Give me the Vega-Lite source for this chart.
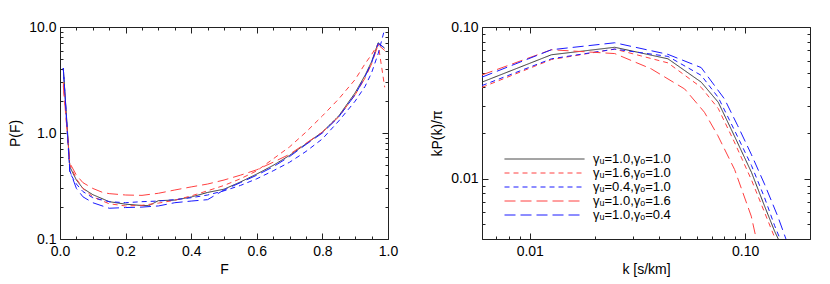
{
"$schema": "https://vega.github.io/schema/vega-lite/v6.json",
"padding": {"left": 8, "top": 19, "right": 5, "bottom": 5},
"background": "white",
"bounds": "flush",
"spacing": 94,
"config": {
  "font": "Liberation Sans",
  "view": {"stroke": "#222", "strokeWidth": 1},
  "axis": {"grid": false, "domain": false, "labelFont": "Liberation Sans", "labelFontSize": 14, "labelColor": "#000", "titleFont": "Liberation Sans", "titleFontSize": 14, "titleFontWeight": "normal", "titleColor": "#000", "tickColor": "#222", "labelOverlap": false, "labelFlush": false, "labelPadding": 10, "titlePadding": 6},
  "axisBottom": {"titlePadding": 1, "labelPadding": 11}
},
"resolve": {"legend": {"color": "independent", "strokeDash": "independent"}},
"datasets": {
"pf": [
{"s":"γᵤ=1.0,γₒ=1.0","F":0.01,"P":4.1},{"s":"γᵤ=1.0,γₒ=1.0","F":0.03,"P":0.48},{"s":"γᵤ=1.0,γₒ=1.0","F":0.05,"P":0.36},{"s":"γᵤ=1.0,γₒ=1.0","F":0.07,"P":0.30},{"s":"γᵤ=1.0,γₒ=1.0","F":0.1,"P":0.262},{"s":"γᵤ=1.0,γₒ=1.0","F":0.15,"P":0.225},{"s":"γᵤ=1.0,γₒ=1.0","F":0.2,"P":0.213},{"s":"γᵤ=1.0,γₒ=1.0","F":0.25,"P":0.207},{"s":"γᵤ=1.0,γₒ=1.0","F":0.27,"P":0.206},{"s":"γᵤ=1.0,γₒ=1.0","F":0.3,"P":0.23},{"s":"γᵤ=1.0,γₒ=1.0","F":0.35,"P":0.233},{"s":"γᵤ=1.0,γₒ=1.0","F":0.4,"P":0.249},{"s":"γᵤ=1.0,γₒ=1.0","F":0.45,"P":0.275},{"s":"γᵤ=1.0,γₒ=1.0","F":0.5,"P":0.295},{"s":"γᵤ=1.0,γₒ=1.0","F":0.55,"P":0.345},{"s":"γᵤ=1.0,γₒ=1.0","F":0.6,"P":0.41},{"s":"γᵤ=1.0,γₒ=1.0","F":0.65,"P":0.495},{"s":"γᵤ=1.0,γₒ=1.0","F":0.7,"P":0.615},{"s":"γᵤ=1.0,γₒ=1.0","F":0.75,"P":0.79},{"s":"γᵤ=1.0,γₒ=1.0","F":0.8,"P":1.02},{"s":"γᵤ=1.0,γₒ=1.0","F":0.85,"P":1.45},{"s":"γᵤ=1.0,γₒ=1.0","F":0.9,"P":2.4},{"s":"γᵤ=1.0,γₒ=1.0","F":0.93,"P":3.5},{"s":"γᵤ=1.0,γₒ=1.0","F":0.95,"P":4.7},{"s":"γᵤ=1.0,γₒ=1.0","F":0.97,"P":7.1},{"s":"γᵤ=1.0,γₒ=1.0","F":0.99,"P":6.3},
{"s":"γᵤ=1.6,γₒ=1.0","F":0.01,"P":3.0},{"s":"γᵤ=1.6,γₒ=1.0","F":0.03,"P":0.50},{"s":"γᵤ=1.6,γₒ=1.0","F":0.05,"P":0.37},{"s":"γᵤ=1.6,γₒ=1.0","F":0.07,"P":0.30},{"s":"γᵤ=1.6,γₒ=1.0","F":0.1,"P":0.25},{"s":"γᵤ=1.6,γₒ=1.0","F":0.15,"P":0.215},{"s":"γᵤ=1.6,γₒ=1.0","F":0.2,"P":0.205},{"s":"γᵤ=1.6,γₒ=1.0","F":0.25,"P":0.208},{"s":"γᵤ=1.6,γₒ=1.0","F":0.3,"P":0.218},{"s":"γᵤ=1.6,γₒ=1.0","F":0.35,"P":0.232},{"s":"γᵤ=1.6,γₒ=1.0","F":0.4,"P":0.255},{"s":"γᵤ=1.6,γₒ=1.0","F":0.45,"P":0.285},{"s":"γᵤ=1.6,γₒ=1.0","F":0.5,"P":0.32},{"s":"γᵤ=1.6,γₒ=1.0","F":0.55,"P":0.37},{"s":"γᵤ=1.6,γₒ=1.0","F":0.6,"P":0.44},{"s":"γᵤ=1.6,γₒ=1.0","F":0.65,"P":0.57},{"s":"γᵤ=1.6,γₒ=1.0","F":0.7,"P":0.74},{"s":"γᵤ=1.6,γₒ=1.0","F":0.75,"P":1.02},{"s":"γᵤ=1.6,γₒ=1.0","F":0.8,"P":1.45},{"s":"γᵤ=1.6,γₒ=1.0","F":0.85,"P":2.1},{"s":"γᵤ=1.6,γₒ=1.0","F":0.9,"P":3.2},{"s":"γᵤ=1.6,γₒ=1.0","F":0.93,"P":4.5},{"s":"γᵤ=1.6,γₒ=1.0","F":0.95,"P":5.5},{"s":"γᵤ=1.6,γₒ=1.0","F":0.97,"P":6.9},{"s":"γᵤ=1.6,γₒ=1.0","F":0.99,"P":2.7},
{"s":"γᵤ=0.4,γₒ=1.0","F":0.01,"P":4.1},{"s":"γᵤ=0.4,γₒ=1.0","F":0.03,"P":0.42},{"s":"γᵤ=0.4,γₒ=1.0","F":0.05,"P":0.33},{"s":"γᵤ=0.4,γₒ=1.0","F":0.07,"P":0.28},{"s":"γᵤ=0.4,γₒ=1.0","F":0.1,"P":0.245},{"s":"γᵤ=0.4,γₒ=1.0","F":0.15,"P":0.225},{"s":"γᵤ=0.4,γₒ=1.0","F":0.2,"P":0.22},{"s":"γᵤ=0.4,γₒ=1.0","F":0.25,"P":0.225},{"s":"γᵤ=0.4,γₒ=1.0","F":0.3,"P":0.228},{"s":"γᵤ=0.4,γₒ=1.0","F":0.35,"P":0.235},{"s":"γᵤ=0.4,γₒ=1.0","F":0.4,"P":0.245},{"s":"γᵤ=0.4,γₒ=1.0","F":0.45,"P":0.26},{"s":"γᵤ=0.4,γₒ=1.0","F":0.5,"P":0.285},{"s":"γᵤ=0.4,γₒ=1.0","F":0.55,"P":0.32},{"s":"γᵤ=0.4,γₒ=1.0","F":0.6,"P":0.37},{"s":"γᵤ=0.4,γₒ=1.0","F":0.65,"P":0.44},{"s":"γᵤ=0.4,γₒ=1.0","F":0.7,"P":0.53},{"s":"γᵤ=0.4,γₒ=1.0","F":0.75,"P":0.67},{"s":"γᵤ=0.4,γₒ=1.0","F":0.8,"P":0.88},{"s":"γᵤ=0.4,γₒ=1.0","F":0.85,"P":1.3},{"s":"γᵤ=0.4,γₒ=1.0","F":0.9,"P":2.0},{"s":"γᵤ=0.4,γₒ=1.0","F":0.93,"P":2.75},{"s":"γᵤ=0.4,γₒ=1.0","F":0.95,"P":3.7},{"s":"γᵤ=0.4,γₒ=1.0","F":0.97,"P":5.6},{"s":"γᵤ=0.4,γₒ=1.0","F":0.99,"P":9.6},
{"s":"γᵤ=1.0,γₒ=1.6","F":0.01,"P":2.8},{"s":"γᵤ=1.0,γₒ=1.6","F":0.03,"P":0.52},{"s":"γᵤ=1.0,γₒ=1.6","F":0.05,"P":0.40},{"s":"γᵤ=1.0,γₒ=1.6","F":0.07,"P":0.34},{"s":"γᵤ=1.0,γₒ=1.6","F":0.1,"P":0.30},{"s":"γᵤ=1.0,γₒ=1.6","F":0.13,"P":0.275},{"s":"γᵤ=1.0,γₒ=1.6","F":0.15,"P":0.268},{"s":"γᵤ=1.0,γₒ=1.6","F":0.2,"P":0.26},{"s":"γᵤ=1.0,γₒ=1.6","F":0.25,"P":0.258},{"s":"γᵤ=1.0,γₒ=1.6","F":0.3,"P":0.27},{"s":"γᵤ=1.0,γₒ=1.6","F":0.35,"P":0.29},{"s":"γᵤ=1.0,γₒ=1.6","F":0.4,"P":0.31},{"s":"γᵤ=1.0,γₒ=1.6","F":0.45,"P":0.33},{"s":"γᵤ=1.0,γₒ=1.6","F":0.5,"P":0.36},{"s":"γᵤ=1.0,γₒ=1.6","F":0.55,"P":0.40},{"s":"γᵤ=1.0,γₒ=1.6","F":0.6,"P":0.45},{"s":"γᵤ=1.0,γₒ=1.6","F":0.65,"P":0.53},{"s":"γᵤ=1.0,γₒ=1.6","F":0.7,"P":0.63},{"s":"γᵤ=1.0,γₒ=1.6","F":0.75,"P":0.80},{"s":"γᵤ=1.0,γₒ=1.6","F":0.8,"P":1.02},{"s":"γᵤ=1.0,γₒ=1.6","F":0.85,"P":1.42},{"s":"γᵤ=1.0,γₒ=1.6","F":0.9,"P":2.3},{"s":"γᵤ=1.0,γₒ=1.6","F":0.93,"P":3.3},{"s":"γᵤ=1.0,γₒ=1.6","F":0.95,"P":4.5},{"s":"γᵤ=1.0,γₒ=1.6","F":0.97,"P":6.8},{"s":"γᵤ=1.0,γₒ=1.6","F":0.99,"P":6.0},
{"s":"γᵤ=1.0,γₒ=0.4","F":0.01,"P":4.1},{"s":"γᵤ=1.0,γₒ=0.4","F":0.03,"P":0.44},{"s":"γᵤ=1.0,γₒ=0.4","F":0.05,"P":0.30},{"s":"γᵤ=1.0,γₒ=0.4","F":0.07,"P":0.25},{"s":"γᵤ=1.0,γₒ=0.4","F":0.1,"P":0.22},{"s":"γᵤ=1.0,γₒ=0.4","F":0.15,"P":0.195},{"s":"γᵤ=1.0,γₒ=0.4","F":0.2,"P":0.198},{"s":"γᵤ=1.0,γₒ=0.4","F":0.25,"P":0.2},{"s":"γᵤ=1.0,γₒ=0.4","F":0.3,"P":0.205},{"s":"γᵤ=1.0,γₒ=0.4","F":0.35,"P":0.22},{"s":"γᵤ=1.0,γₒ=0.4","F":0.4,"P":0.228},{"s":"γᵤ=1.0,γₒ=0.4","F":0.45,"P":0.235},{"s":"γᵤ=1.0,γₒ=0.4","F":0.5,"P":0.29},{"s":"γᵤ=1.0,γₒ=0.4","F":0.55,"P":0.34},{"s":"γᵤ=1.0,γₒ=0.4","F":0.6,"P":0.40},{"s":"γᵤ=1.0,γₒ=0.4","F":0.65,"P":0.48},{"s":"γᵤ=1.0,γₒ=0.4","F":0.7,"P":0.60},{"s":"γᵤ=1.0,γₒ=0.4","F":0.75,"P":0.78},{"s":"γᵤ=1.0,γₒ=0.4","F":0.8,"P":1.0},{"s":"γᵤ=1.0,γₒ=0.4","F":0.85,"P":1.42},{"s":"γᵤ=1.0,γₒ=0.4","F":0.9,"P":2.3},{"s":"γᵤ=1.0,γₒ=0.4","F":0.93,"P":3.4},{"s":"γᵤ=1.0,γₒ=0.4","F":0.95,"P":4.6},{"s":"γᵤ=1.0,γₒ=0.4","F":0.97,"P":7.0},{"s":"γᵤ=1.0,γₒ=0.4","F":0.99,"P":6.3}
],
"pk": [
{"s":"γᵤ=1.0,γₒ=1.0","k":0.006,"P":0.0433},{"s":"γᵤ=1.0,γₒ=1.0","k":0.0126,"P":0.0656},{"s":"γᵤ=1.0,γₒ=1.0","k":0.0248,"P":0.0735},{"s":"γᵤ=1.0,γₒ=1.0","k":0.0438,"P":0.0617},{"s":"γᵤ=1.0,γₒ=1.0","k":0.0625,"P":0.0433},{"s":"γᵤ=1.0,γₒ=1.0","k":0.075,"P":0.0319},{"s":"γᵤ=1.0,γₒ=1.0","k":0.089,"P":0.0192},{"s":"γᵤ=1.0,γₒ=1.0","k":0.107,"P":0.011},{"s":"γᵤ=1.0,γₒ=1.0","k":0.123,"P":0.0066},{"s":"γᵤ=1.0,γₒ=1.0","k":0.137,"P":0.0045},{"s":"γᵤ=1.0,γₒ=1.0","k":0.155,"P":0.0031},
{"s":"γᵤ=1.6,γₒ=1.0","k":0.006,"P":0.040},{"s":"γᵤ=1.6,γₒ=1.0","k":0.0126,"P":0.061},{"s":"γᵤ=1.6,γₒ=1.0","k":0.0248,"P":0.0715},{"s":"γᵤ=1.6,γₒ=1.0","k":0.0438,"P":0.058},{"s":"γᵤ=1.6,γₒ=1.0","k":0.0625,"P":0.040},{"s":"γᵤ=1.6,γₒ=1.0","k":0.075,"P":0.029},{"s":"γᵤ=1.6,γₒ=1.0","k":0.089,"P":0.0175},{"s":"γᵤ=1.6,γₒ=1.0","k":0.107,"P":0.0098},{"s":"γᵤ=1.6,γₒ=1.0","k":0.123,"P":0.006},{"s":"γᵤ=1.6,γₒ=1.0","k":0.137,"P":0.0041},{"s":"γᵤ=1.6,γₒ=1.0","k":0.155,"P":0.0026},
{"s":"γᵤ=0.4,γₒ=1.0","k":0.006,"P":0.0411},{"s":"γᵤ=0.4,γₒ=1.0","k":0.0126,"P":0.0617},{"s":"γᵤ=0.4,γₒ=1.0","k":0.0248,"P":0.0715},{"s":"γᵤ=0.4,γₒ=1.0","k":0.0438,"P":0.064},{"s":"γᵤ=0.4,γₒ=1.0","k":0.0625,"P":0.048},{"s":"γᵤ=0.4,γₒ=1.0","k":0.075,"P":0.0343},{"s":"γᵤ=0.4,γₒ=1.0","k":0.089,"P":0.021},{"s":"γᵤ=0.4,γₒ=1.0","k":0.107,"P":0.0122},{"s":"γᵤ=0.4,γₒ=1.0","k":0.123,"P":0.0075},{"s":"γᵤ=0.4,γₒ=1.0","k":0.137,"P":0.0049},{"s":"γᵤ=0.4,γₒ=1.0","k":0.155,"P":0.0032},
{"s":"γᵤ=1.0,γₒ=1.6","k":0.006,"P":0.0483},{"s":"γᵤ=1.0,γₒ=1.6","k":0.0126,"P":0.0708},{"s":"γᵤ=1.0,γₒ=1.6","k":0.0248,"P":0.0668},{"s":"γᵤ=1.0,γₒ=1.6","k":0.0366,"P":0.053},{"s":"γᵤ=1.0,γₒ=1.6","k":0.0524,"P":0.039},{"s":"γᵤ=1.0,γₒ=1.6","k":0.0647,"P":0.0274},{"s":"γᵤ=1.0,γₒ=1.6","k":0.0747,"P":0.0192},{"s":"γᵤ=1.0,γₒ=1.6","k":0.0893,"P":0.0115},{"s":"γᵤ=1.0,γₒ=1.6","k":0.1067,"P":0.00566},{"s":"γᵤ=1.0,γₒ=1.6","k":0.115,"P":0.0035},
{"s":"γᵤ=1.0,γₒ=0.4","k":0.006,"P":0.0467},{"s":"γᵤ=1.0,γₒ=0.4","k":0.0126,"P":0.0708},{"s":"γᵤ=1.0,γₒ=0.4","k":0.0248,"P":0.0787},{"s":"γᵤ=1.0,γₒ=0.4","k":0.0438,"P":0.066},{"s":"γᵤ=1.0,γₒ=0.4","k":0.0625,"P":0.054},{"s":"γᵤ=1.0,γₒ=0.4","k":0.0802,"P":0.0335},{"s":"γᵤ=1.0,γₒ=0.4","k":0.0924,"P":0.0223},{"s":"γᵤ=1.0,γₒ=0.4","k":0.1067,"P":0.0145},{"s":"γᵤ=1.0,γₒ=0.4","k":0.123,"P":0.0092},{"s":"γᵤ=1.0,γₒ=0.4","k":0.1416,"P":0.00566},{"s":"γᵤ=1.0,γₒ=0.4","k":0.16,"P":0.0035}
]
},
"hconcat": [
{
 "width": 328, "height": 212,
 "data": {"name": "pf"},
 "layer": [
  {"mark": {"type": "line", "clip": true},
   "encoding": {
    "x": {"field": "F", "type": "quantitative", "scale": {"domain": [0, 1], "nice": false, "zero": false},
      "axis": {"orient": "bottom", "title": "F", "values": [0,0.05,0.1,0.15,0.2,0.25,0.3,0.35,0.4,0.45,0.5,0.55,0.6,0.65,0.7,0.75,0.8,0.85,0.9,0.95,1],
        "labelExpr": "round(datum.value*100) % 20 == 0 ? format(datum.value, '.1f') : ''",
        "tickSize": {"condition": {"test": "round(datum.value*100) % 20 == 0", "value": -6}, "value": -3}}},
    "y": {"field": "P", "type": "quantitative", "scale": {"type": "log", "domain": [0.1, 10], "nice": false},
      "axis": {"orient": "left", "title": "P(F)", "values": [0.1,0.2,0.3,0.4,0.5,0.6,0.7,0.8,0.9,1,2,3,4,5,6,7,8,9,10],
        "labelExpr": "(datum.value == 0.1 || datum.value == 1 || datum.value == 10) ? format(datum.value, '.1f') : ''",
        "tickSize": {"condition": {"test": "datum.value == 0.1 || datum.value == 1 || datum.value == 10", "value": -6}, "value": -3}}},
    "color": {"field": "s", "type": "nominal", "scale": {"domain": ["γᵤ=1.0,γₒ=1.0","γᵤ=1.6,γₒ=1.0","γᵤ=0.4,γₒ=1.0","γᵤ=1.0,γₒ=1.6","γᵤ=1.0,γₒ=0.4"], "range": ["#333333","#ff4040","#1a1aff","#ff4040","#1a1aff"]}, "legend": null},
    "strokeDash": {"field": "s", "type": "nominal", "scale": {"domain": ["γᵤ=1.0,γₒ=1.0","γᵤ=1.6,γₒ=1.0","γᵤ=0.4,γₒ=1.0","γᵤ=1.0,γₒ=1.6","γᵤ=1.0,γₒ=0.4"], "range": [[1,0],[5,4],[5,4],[11,5],[11,5]]}, "legend": null},
    "strokeWidth": {"field": "s", "type": "nominal", "scale": {"domain": ["γᵤ=1.0,γₒ=1.0","γᵤ=1.6,γₒ=1.0","γᵤ=0.4,γₒ=1.0","γᵤ=1.0,γₒ=1.6","γᵤ=1.0,γₒ=0.4"], "range": [1,1,1.4,1,1.4]}, "legend": null}
   }},
  {"mark": {"type": "line", "opacity": 0},
   "encoding": {
    "x": {"field": "F", "type": "quantitative",
      "axis": {"orient": "top", "title": null, "labels": false, "values": [0,0.05,0.1,0.15,0.2,0.25,0.3,0.35,0.4,0.45,0.5,0.55,0.6,0.65,0.7,0.75,0.8,0.85,0.9,0.95,1],
        "tickSize": {"condition": {"test": "round(datum.value*100) % 20 == 0", "value": -6}, "value": -3}}},
    "y": {"field": "P", "type": "quantitative",
      "axis": {"orient": "right", "title": null, "labels": false, "values": [0.1,0.2,0.3,0.4,0.5,0.6,0.7,0.8,0.9,1,2,3,4,5,6,7,8,9,10],
        "tickSize": {"condition": {"test": "datum.value == 0.1 || datum.value == 1 || datum.value == 10", "value": -6}, "value": -3}}},
    "detail": {"field": "s", "type": "nominal"}
   }}
 ]
},
{
 "width": 328, "height": 212,
 "data": {"name": "pk"},
 "layer": [
  {"mark": {"type": "line", "clip": true},
   "encoding": {
    "x": {"field": "k", "type": "quantitative", "scale": {"type": "log", "domain": [0.006, 0.2], "nice": false},
      "axis": {"orient": "bottom", "title": "k [s/km]", "values": [0.006,0.007,0.008,0.009,0.01,0.02,0.03,0.04,0.05,0.06,0.07,0.08,0.09,0.1,0.2],
        "labelExpr": "(datum.value == 0.01 || datum.value == 0.1) ? format(datum.value, '.2f') : ''",
        "tickSize": {"condition": {"test": "datum.value == 0.01 || datum.value == 0.1", "value": -6}, "value": -3}}},
    "y": {"field": "P", "type": "quantitative", "scale": {"type": "log", "domain": [0.004, 0.1], "nice": false},
      "axis": {"orient": "left", "title": "kP(k)/π", "values": [0.004,0.005,0.006,0.007,0.008,0.009,0.01,0.02,0.03,0.04,0.05,0.06,0.07,0.08,0.09,0.1],
        "labelExpr": "(datum.value == 0.01 || datum.value == 0.1) ? format(datum.value, '.2f') : ''",
        "tickSize": {"condition": {"test": "datum.value == 0.01 || datum.value == 0.1", "value": -6}, "value": -3}}},
    "color": {"field": "s", "type": "nominal", "scale": {"domain": ["γᵤ=1.0,γₒ=1.0","γᵤ=1.6,γₒ=1.0","γᵤ=0.4,γₒ=1.0","γᵤ=1.0,γₒ=1.6","γᵤ=1.0,γₒ=0.4"], "range": ["#333333","#ff4040","#1a1aff","#ff4040","#1a1aff"]},
      "legend": {"orient": "none", "legendX": 22, "legendY": 125, "title": null, "symbolType": "stroke", "symbolSize": 6400, "symbolStrokeWidth": 1, "labelFontSize": 13, "labelFont": "Liberation Sans", "labelColor": "#000", "labelOffset": 8, "clipHeight": 14, "rowPadding": 0, "padding": 0}},
    "strokeDash": {"field": "s", "type": "nominal", "scale": {"domain": ["γᵤ=1.0,γₒ=1.0","γᵤ=1.6,γₒ=1.0","γᵤ=0.4,γₒ=1.0","γᵤ=1.0,γₒ=1.6","γᵤ=1.0,γₒ=0.4"], "range": [[1,0],[5,4],[5,4],[11,5],[11,5]]},
      "legend": {"orient": "none", "legendX": 22, "legendY": 125, "title": null, "symbolType": "stroke", "symbolSize": 6400, "symbolStrokeWidth": 1, "labelFontSize": 13, "labelFont": "Liberation Sans", "labelColor": "#000", "labelOffset": 8, "clipHeight": 14, "rowPadding": 0, "padding": 0}},
    "strokeWidth": {"field": "s", "type": "nominal", "scale": {"domain": ["γᵤ=1.0,γₒ=1.0","γᵤ=1.6,γₒ=1.0","γᵤ=0.4,γₒ=1.0","γᵤ=1.0,γₒ=1.6","γᵤ=1.0,γₒ=0.4"], "range": [1,1,1.3,1,1.3]}, "legend": null}
   }},
  {"mark": {"type": "line", "opacity": 0},
   "encoding": {
    "x": {"field": "k", "type": "quantitative",
      "axis": {"orient": "top", "title": null, "labels": false, "values": [0.006,0.007,0.008,0.009,0.01,0.02,0.03,0.04,0.05,0.06,0.07,0.08,0.09,0.1,0.2],
        "tickSize": {"condition": {"test": "datum.value == 0.01 || datum.value == 0.1", "value": -6}, "value": -3}}},
    "y": {"field": "P", "type": "quantitative",
      "axis": {"orient": "right", "title": null, "labels": false, "values": [0.004,0.005,0.006,0.007,0.008,0.009,0.01,0.02,0.03,0.04,0.05,0.06,0.07,0.08,0.09,0.1],
        "tickSize": {"condition": {"test": "datum.value == 0.01 || datum.value == 0.1", "value": -6}, "value": -3}}},
    "detail": {"field": "s", "type": "nominal"}
   }}
 ]
}
]
}
